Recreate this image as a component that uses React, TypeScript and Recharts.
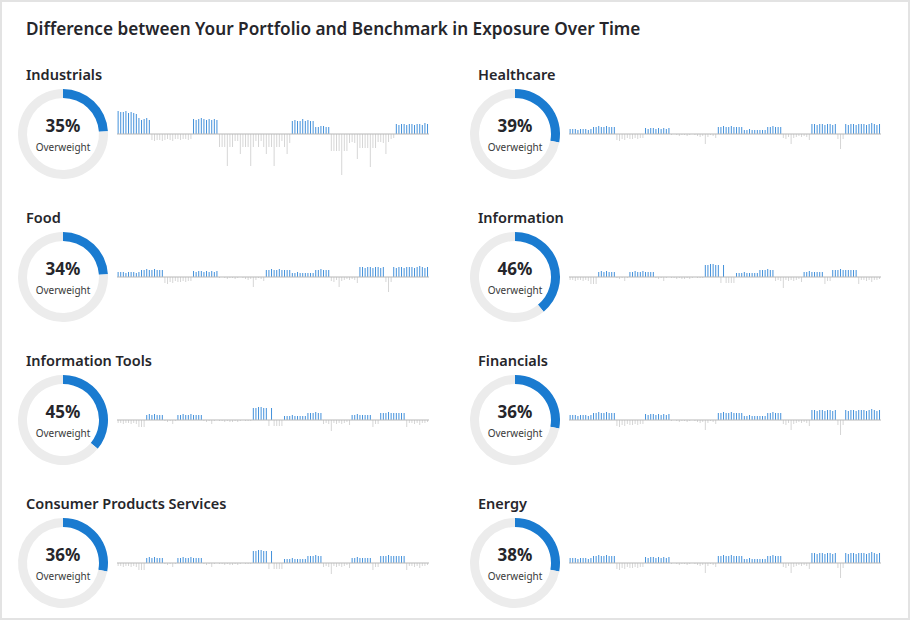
import { Bar, BarChart, Cell, Pie, PieChart, ReferenceLine, XAxis, YAxis } from "recharts";

const sectors = [
  "Industrials",
  "Healthcare",
  "Food",
  "Information",
  "Information Tools",
  "Financials",
  "Consumer Products Services",
  "Energy",
];

// label shown in the donut
const overweightPct = [35, 39, 34, 46, 45, 36, 36, 38];
// share of the ring that is blue, as drawn
const ringShare = [0.24, 0.28, 0.24, 0.39, 0.36, 0.28, 0.28, 0.28];

// difference in exposure, one value per period
const industrialsDiff = [
  23, 22, 22, 23, 21, 22, 21, 20, 16, 14, 15, 16, 14,
  -6, -7, -6, -6, -7, -6, -5, -6, -7, -5, -5, -6, -5, -5, -6, -5,
  15, 14, 15, 16, 15, 14, 15, 14, 15, 14,
  -13, -13, -13, -32, -13, -13, -7, -7, -20, -13, -13, -13, -32, -13, -7, -13, -7, -13, -20, -13, -13, -32, -13, -13, -7, -13, -20, -9,
  13, 14, 13, 13, 15, 13, 14, 13, 13, 7, 7, 8, 8, 7, 7,
  -17, -17, -17, -17, -41, -17, -17, -9, -8, -9, -25, -14, -14, -14, -14, -33, -14, -14, -8, -8, -9, -20, -8, -5, -4,
  10, 9, 10, 10, 9, 10, 10, 9, 10, 10, 9, 11, 10,
];

const healthcareDiff = [
  5, 5, 5, 4, 5, 5, 5, 4, 5,
  7, 7, 8, 7, 7, 8, 7, 7, 7,
  -6, -7, -5, -6, -4, -5, -5, -4, -5, -4, -4,
  6, 5, 6, 6, 5, 6, 5, 6, 5, 6,
  -1, 0, -1, -2, -1, -1, -2, -1, 0, -1, -2, -3, -2, -10, -3, -1, -2, -4,
  7, 7, 8, 7, 7, 8, 7, 7, 7, 7,
  4, 4, 5, 4, 4, 4, 4, 4, 4,
  7, 7, 8, 7, 7, 7,
  -4, -5, -3, -10, -4, -3, -2, -3, -2, -3, -6,
  10, 10, 9, 10, 10, 9, 10, 10, 9, 10,
  -5, -15, -5,
  10, 9, 10, 10, 9, 10, 10, 10, 9, 10, 11, 10, 9, 10,
];

const informationDiff = [
  -3, -3, -4, -3, -3, -4, -3, -4, -7, -7, -7,
  5, 6, 5, 6, 5, 5, 5,
  -1, -2, -1, -4, -1,
  5, 5, 6, 5, 5, 6, 5, 5, 5, 5,
  -1, -2, -1, -4, -1, 0, -1, -1, -2, -1, -2, -2, -1, -2, -1, 0, -1, -1, -1,
  12, 12, 13, 13, 12, 12, -6, 12, -6,
  -6, -6, -6,
  4, 4, 4, 5, 4, 4, 4, 4, 4,
  7, 7, 7, 8, 7, 7,
  -4, -3, -4, -11, -3, -4, -3, -4, -3, -2, -5,
  5, 5, 6, 5, 5, 5, 5, 5,
  -7, -4, -4,
  7, 7, 7, 8, 7, 7, 7, 7, 7, 7,
  -7, -3, -3, -4, -3, -5, -3, -3, -2,
];

const sectorDiffs = [
  industrialsDiff,
  healthcareDiff,
  healthcareDiff,
  informationDiff,
  informationDiff,
  healthcareDiff,
  informationDiff,
  healthcareDiff,
];

const FONT = "'Noto Sans', 'Open Sans', sans-serif";
const BLUE = "#1a7bd0";
const BAR_BLUE = "#4391db";
const BAR_GRAY = "#d6d6d6";

const Sparkline = ({ values }: { values: number[] }) => {
  const data = values.map((v, i) => ({ i, v }));
  return (
    <BarChart width={312} height={73} data={data} margin={{ top: 0, right: 0, bottom: 0, left: 0 }} barCategoryGap="24%">
      <XAxis dataKey="i" hide />
      <YAxis hide domain={[-45, 28]} />
      <Bar dataKey="v" isAnimationActive={false}>
        {data.map((d) => (
          <Cell key={d.i} fill={d.v >= 0 ? BAR_BLUE : BAR_GRAY} />
        ))}
      </Bar>
      <ReferenceLine y={0} stroke="#b8b8b8" strokeWidth={1.2} />
    </BarChart>
  );
};

const Donut = ({ share }: { share: number }) => {
  const data = [
    { name: "over", value: share },
    { name: "rest", value: 1 - share },
  ];
  return (
    <PieChart width={100} height={100} margin={{ top: 0, right: 0, bottom: 0, left: 0 }}>
      <Pie
        data={data}
        dataKey="value"
        cx={50}
        cy={50}
        innerRadius={36}
        outerRadius={45}
        startAngle={90}
        endAngle={-270}
        stroke="none"
        isAnimationActive={false}
      >
        <Cell fill={BLUE} />
        <Cell fill="#ececec" />
      </Pie>
    </PieChart>
  );
};

export default function App() {
  return (
    <div
      style={{
        position: "fixed",
        left: 0,
        top: 0,
        width: 910,
        height: 620,
        boxSizing: "border-box",
        border: "2px solid #e3e3e3",
        background: "#fff",
        fontFamily: FONT,
        color: "#26262b",
      }}
    >
      <div style={{ position: "absolute", left: 24, top: 15, fontSize: 17.2, fontWeight: 600, whiteSpace: "nowrap" }}>
        Difference between Your Portfolio and Benchmark in Exposure Over Time
      </div>
      {sectors.map((name, k) => {
        const col = k % 2;
        const row = Math.floor(k / 2);
        const ox = col * 452;
        const axisY = 134 + row * 143;
        return (
          <div key={name}>
            <div
              style={{
                position: "absolute",
                left: 24 + ox,
                top: axisY - 72,
                fontSize: 14.5,
                fontWeight: 600,
                whiteSpace: "nowrap",
              }}
            >
              {name}
            </div>
            <div style={{ position: "absolute", left: 11 + ox, top: axisY - 52 }}>
              <Donut share={ringShare[k]} />
            </div>
            <div
              style={{
                position: "absolute",
                left: 11 + ox,
                top: axisY - 22,
                width: 100,
                textAlign: "center",
                fontSize: 17,
                fontWeight: 700,
              }}
            >
              {overweightPct[k]}%
            </div>
            <div
              style={{
                position: "absolute",
                left: 11 + ox,
                top: axisY + 4,
                width: 100,
                textAlign: "center",
                fontSize: 10,
                color: "#3a3a3a",
              }}
            >
              Overweight
            </div>
            <div style={{ position: "absolute", left: 115 + ox, top: axisY - 30 }}>
              <Sparkline values={sectorDiffs[k]} />
            </div>
          </div>
        );
      })}
    </div>
  );
}
